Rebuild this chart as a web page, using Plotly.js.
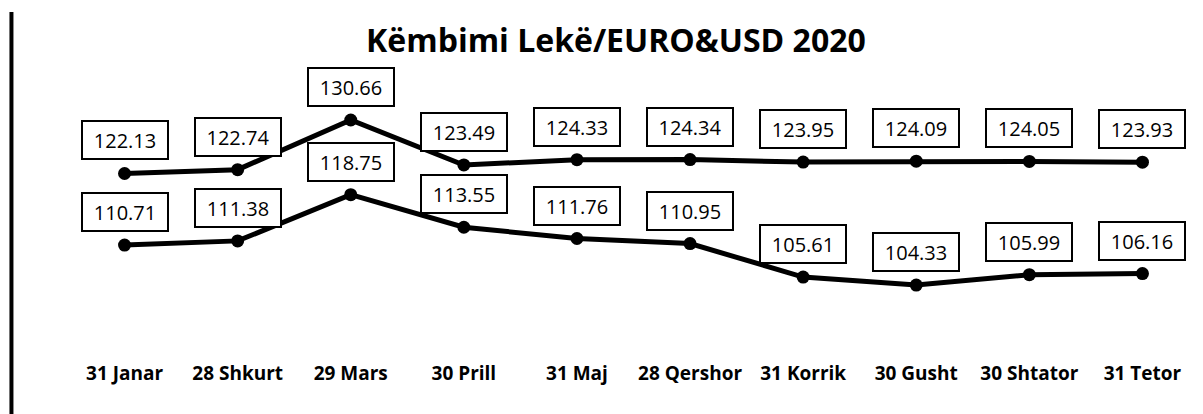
<!DOCTYPE html>
<html>
<head>
<meta charset="utf-8">
<script src="https://cdn.plot.ly/plotly-3.0.1.min.js"></script>
<style>
html,body{margin:0;padding:0;background:#fff;}
#chart{width:1203px;height:414px;}
</style>
</head>
<body>
<div id="chart"></div>
<script>
// ---- data ----
const categories = ["31 Janar","28 Shkurt","29 Mars","30 Prill","31 Maj","28 Qershor","31 Korrik","30 Gusht","30 Shtator","31 Tetor"];
const euroValues = [122.13,122.74,130.66,123.49,124.33,124.34,123.95,124.09,124.05,123.93];
const usdValues  = [110.71,111.38,118.75,113.55,111.76,110.95,105.61,104.33,105.99,106.16];
const chartTitle = "Këmbimi Lekë/EURO&USD 2020";

// ---- styles ----
const FONT = "Open Sans, DejaVu Sans, sans-serif";
const lineStyle = {color:"#000", width:5};
const markerStyle = {color:"#000", size:13, symbol:"circle"};

function series(name, vals){
  return {
    type:"scatter", mode:"lines+markers", name:name,
    x:categories, y:vals,
    line:lineStyle, marker:markerStyle,
    cliponaxis:false, hoverinfo:"skip"
  };
}

function labelAnnotations(vals){
  return vals.map((v,i)=>({
    x:categories[i], y:v, xref:"x", yref:"y",
    text:v.toFixed(2), showarrow:false,
    yshift:33,
    font:{family:FONT, size:20, color:"#000"},
    bgcolor:"#fff", bordercolor:"#000", borderwidth:2, borderpad:1,
    width:82, height:34, align:"center", valign:"middle"
  }));
}

const layout = {
  width:1203, height:414,
  margin:{l:68, r:4, t:20, b:54},
  paper_bgcolor:"#fff", plot_bgcolor:"#fff",
  showlegend:false,
  title:{
    text:"<b>"+chartTitle+"</b>",
    font:{family:FONT, size:32, color:"#000"},
    x:0.512, xref:"container", xanchor:"center",
    y:0.901, yref:"container", yanchor:"middle"
  },
  xaxis:{
    type:"category", range:[-0.5,9.5],
    showgrid:false, zeroline:false, showline:false, ticks:"",
    tickfont:{family:FONT, size:19, color:"#000", weight:"bold"},
    fixedrange:true
  },
  yaxis:{
    range:[92.38,146.61],
    visible:false, showgrid:false, zeroline:false, fixedrange:true
  },
  shapes:[{
    type:"line", xref:"paper", yref:"paper",
    x0:-0.05, x1:-0.05, y0:-0.159, y1:1.0235,
    line:{color:"#000", width:4}
  }],
  annotations:[].concat(labelAnnotations(euroValues), labelAnnotations(usdValues))
};

Plotly.newPlot("chart",[series("EURO",euroValues), series("USD",usdValues)],layout,{staticPlot:true, displayModeBar:false});
</script>
</body>
</html>
